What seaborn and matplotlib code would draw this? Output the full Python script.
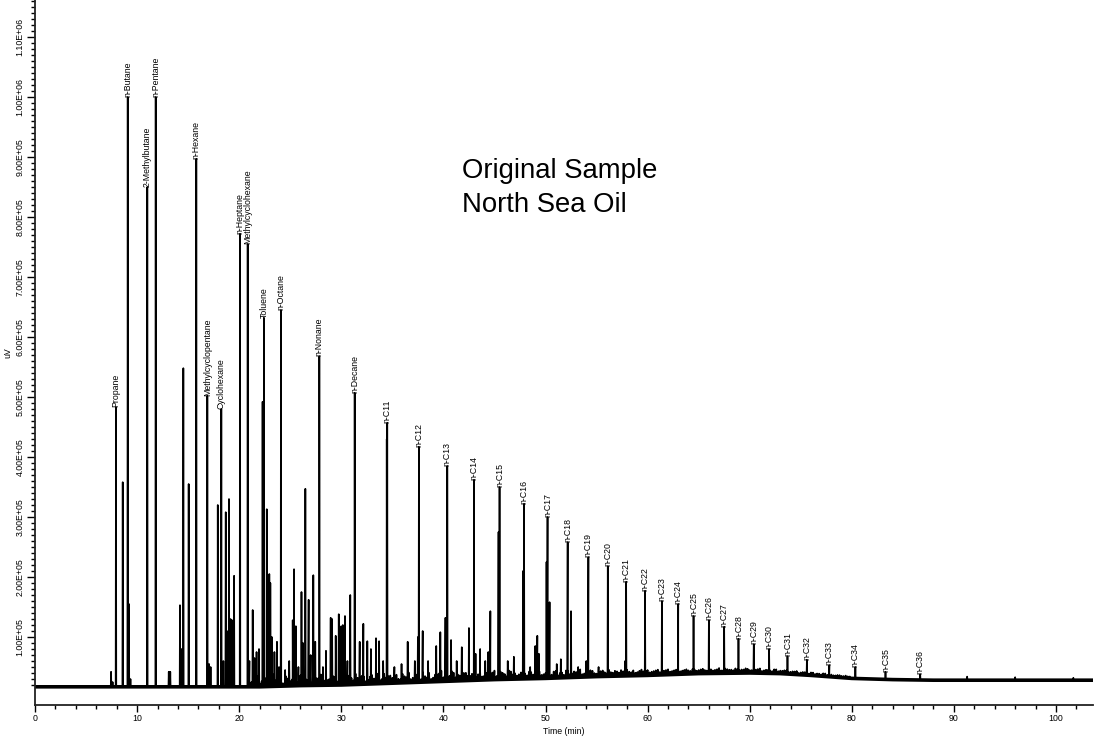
import numpy as np
import pandas as pd
import matplotlib
matplotlib.use("Agg")
import matplotlib.pyplot as plt
import seaborn as sns
from matplotlib.ticker import MultipleLocator, FixedLocator, FuncFormatter

# ---------------- data ----------------
named_labels = ["Propane", "n-Butane", "2-Methylbutane", "n-Pentane", "n-Hexane",
                "Methylcyclopentane", "Cyclohexane", "n-Heptane", "Methylcyclohexane",
                "Toluene", "n-Octane", "n-Nonane", "n-Decane", "n-C11", "n-C12", "n-C13",
                "n-C14", "n-C15", "n-C16", "n-C17", "n-C18", "n-C19", "n-C20", "n-C21",
                "n-C22", "n-C23", "n-C24", "n-C25", "n-C26", "n-C27", "n-C28", "n-C29",
                "n-C30", "n-C31", "n-C32", "n-C33", "n-C34", "n-C35", "n-C36"]
named_times = [7.93, 9.08, 11.0, 11.82, 15.8, 16.88, 18.25, 20.08, 20.83, 22.42, 24.09,
               27.85, 31.31, 34.5, 37.6, 40.38, 43.0, 45.5, 47.9, 50.2, 52.17, 54.2, 56.1,
               57.9, 59.75, 61.4, 63.0, 64.5, 66.0, 67.5, 68.9, 70.4, 71.9, 73.7, 75.6,
               77.8, 80.35, 83.3, 86.7]
named_heights = [4.83e5, 1.00e6, 8.50e5, 1.00e6, 8.97e5, 5.02e5, 4.80e5, 7.72e5, 7.55e5,
                 6.32e5, 6.45e5, 5.68e5, 5.07e5, 4.57e5, 4.17e5, 3.85e5, 3.62e5, 3.50e5,
                 3.22e5, 3.00e5, 2.58e5, 2.33e5, 2.18e5, 1.92e5, 1.77e5, 1.60e5, 1.55e5,
                 1.35e5, 1.28e5, 1.17e5, 0.97e5, 0.88e5, 0.80e5, 0.68e5, 0.62e5, 0.53e5,
                 0.50e5, 0.42e5, 0.38e5]

other_times = [7.45, 7.6, 8.59, 9.2, 9.35, 13.1, 13.25, 14.2, 14.35, 14.53, 15.05, 17.05,
               17.2, 17.9, 18.45, 18.68, 18.8, 19.0, 19.15, 19.3, 19.5, 21.0, 21.32, 21.5,
               21.7, 21.94, 22.29, 22.7, 22.95, 23.05, 23.2, 23.45, 23.7, 23.9, 24.5, 24.9,
               25.24, 25.37, 25.55, 25.8, 26.1, 26.25, 26.48, 26.8, 27.0, 27.26, 27.45,
               28.2, 28.5, 28.96, 29.1, 29.45, 29.75, 30.0, 30.15, 30.36, 30.6, 30.88,
               31.8, 32.16, 32.55, 32.9, 33.4, 33.7, 34.1, 34.45, 35.2, 35.9, 36.5, 37.2,
               37.5, 37.97, 38.5, 39.3, 39.7, 40.2, 40.75, 41.3, 41.8, 42.5, 43.15, 43.6,
               44.1, 44.4, 44.6, 45.4, 46.3, 46.9, 47.8, 48.5, 49.0, 49.2, 49.35, 50.1,
               50.4, 51.1, 51.5, 52.5, 53.2, 54.0, 55.2, 57.8, 91.3, 96.0, 101.7]
other_heights = [0.42e5, 0.25e5, 3.58e5, 1.55e5, 0.30e5, 0.42e5, 0.42e5, 1.53e5, 0.80e5,
                 5.48e5, 3.55e5, 0.55e5, 0.50e5, 3.20e5, 0.60e5, 3.08e5, 1.10e5, 3.30e5,
                 1.30e5, 1.28e5, 2.02e5, 0.60e5, 1.45e5, 0.65e5, 0.75e5, 0.80e5, 4.92e5,
                 3.13e5, 2.05e5, 1.90e5, 1.00e5, 0.75e5, 0.92e5, 0.50e5, 0.45e5, 0.60e5,
                 1.28e5, 2.13e5, 1.18e5, 0.50e5, 1.75e5, 0.90e5, 3.47e5, 1.62e5, 0.70e5,
                 2.03e5, 0.92e5, 0.50e5, 0.77e5, 1.32e5, 1.30e5, 1.02e5, 1.38e5, 1.18e5,
                 1.20e5, 1.35e5, 0.60e5, 1.70e5, 0.92e5, 1.22e5, 0.93e5, 0.80e5, 0.98e5,
                 0.93e5, 0.60e5, 4.30e5, 0.50e5, 0.55e5, 0.92e5, 0.60e5, 1.00e5, 1.10e5,
                 0.60e5, 0.85e5, 1.08e5, 1.32e5, 0.95e5, 0.60e5, 0.83e5, 1.15e5, 0.72e5,
                 0.80e5, 0.60e5, 0.75e5, 1.43e5, 2.75e5, 0.60e5, 0.67e5, 2.10e5, 0.50e5,
                 0.85e5, 1.02e5, 0.72e5, 2.25e5, 1.58e5, 0.55e5, 0.63e5, 1.43e5, 0.50e5,
                 0.60e5, 0.50e5, 0.60e5, 0.34e5, 0.33e5, 0.32e5]

# small "grass" peaks above the baseline (uV above baseline), two interleaved sample rows
grass_start, grass_step = 21.0, 0.4
grass_h = [1.2e4, 0.6e4, 1.8e4, 0.9e4, 1.4e4, 0.7e4, 2.0e4, 1.1e4, 0.5e4, 1.6e4, 0.8e4,
           1.3e4, 1.9e4, 0.6e4, 1.0e4, 1.5e4, 0.7e4, 1.2e4, 2.1e4, 0.9e4, 0.5e4, 1.4e4,
           1.0e4, 1.7e4, 0.6e4, 1.1e4, 1.8e4, 0.8e4, 1.3e4, 0.7e4, 1.5e4, 1.0e4, 0.6e4,
           1.6e4, 1.2e4,
           0.9e4, 1.4e4, 0.6e4, 1.1e4, 1.7e4, 0.8e4, 1.3e4, 0.5e4, 1.0e4, 1.5e4, 0.7e4,
           1.2e4, 1.8e4, 0.6e4, 0.9e4, 1.4e4, 1.1e4, 0.5e4, 1.3e4, 0.8e4, 1.6e4, 1.0e4,
           0.6e4, 1.2e4, 0.9e4, 1.5e4, 0.7e4, 1.1e4, 0.5e4, 1.3e4, 1.0e4, 0.8e4, 1.4e4,
           0.6e4, 1.1e4, 0.9e4, 1.2e4, 0.7e4,
           1.0e4, 0.6e4, 1.2e4, 0.8e4, 0.5e4, 1.1e4, 0.7e4, 0.9e4, 1.3e4, 0.6e4, 0.8e4,
           1.0e4, 0.5e4, 0.9e4, 0.7e4, 1.1e4, 0.6e4, 0.8e4, 1.0e4, 0.5e4, 0.7e4, 0.9e4,
           0.6e4, 1.0e4, 0.8e4, 0.5e4, 0.7e4, 0.9e4, 0.6e4, 0.8e4, 0.5e4, 0.7e4, 0.9e4,
           0.6e4, 0.8e4, 0.5e4, 0.7e4, 0.6e4,
           0.8e4, 0.5e4, 0.7e4, 0.6e4, 0.9e4, 0.5e4, 0.7e4, 0.6e4, 0.8e4, 0.5e4, 0.6e4,
           0.7e4, 0.5e4, 0.6e4, 0.8e4, 0.5e4, 0.6e4, 0.4e4, 0.7e4, 0.5e4, 0.6e4, 0.4e4,
           0.5e4, 0.6e4, 0.4e4, 0.5e4, 0.3e4, 0.5e4, 0.4e4, 0.3e4, 0.5e4, 0.4e4, 0.3e4,
           0.4e4, 0.3e4, 0.4e4, 0.3e4]
grass2_start = 21.2
grass2_h = [0.8e4, 1.5e4, 0.6e4, 1.2e4, 1.9e4, 0.7e4, 1.0e4, 1.6e4, 0.5e4, 1.3e4, 1.1e4,
            0.7e4, 1.7e4, 0.9e4, 1.4e4, 0.6e4, 1.2e4, 1.8e4, 0.8e4, 1.0e4, 1.5e4, 0.6e4,
            1.3e4, 0.9e4, 1.6e4, 0.7e4, 1.1e4, 1.4e4, 0.5e4, 1.2e4, 0.9e4, 1.7e4, 0.8e4,
            1.0e4, 1.3e4,
            1.1e4, 0.7e4, 1.5e4, 0.9e4, 0.6e4, 1.3e4, 1.0e4, 1.6e4, 0.8e4, 0.5e4, 1.2e4,
            1.4e4, 0.7e4, 1.0e4, 1.7e4, 0.6e4, 0.9e4, 1.3e4, 0.8e4, 1.1e4, 0.5e4, 1.4e4,
            0.7e4, 1.0e4, 1.2e4, 0.6e4, 1.3e4, 0.9e4, 1.5e4, 0.8e4, 0.6e4, 1.1e4, 0.9e4,
            1.2e4, 0.7e4, 1.0e4, 0.6e4, 0.9e4,
            0.7e4, 1.1e4, 0.5e4, 0.9e4, 1.2e4, 0.6e4, 1.0e4, 0.7e4, 0.5e4, 0.9e4, 1.1e4,
            0.6e4, 0.8e4, 1.0e4, 0.5e4, 0.7e4, 0.9e4, 0.6e4, 0.8e4, 1.0e4, 0.6e4, 0.5e4,
            0.8e4, 0.7e4, 0.9e4, 0.6e4, 0.8e4, 0.5e4, 0.7e4, 0.9e4, 0.6e4, 0.8e4, 0.5e4,
            0.7e4, 0.6e4, 0.8e4, 0.5e4, 0.7e4,
            0.6e4, 0.8e4, 0.5e4, 0.7e4, 0.5e4, 0.8e4, 0.6e4, 0.5e4, 0.7e4, 0.6e4, 0.8e4,
            0.5e4, 0.6e4, 0.7e4, 0.4e4, 0.6e4, 0.5e4, 0.7e4, 0.4e4, 0.5e4, 0.6e4, 0.4e4,
            0.5e4, 0.3e4, 0.5e4, 0.4e4, 0.5e4, 0.3e4, 0.4e4, 0.5e4, 0.3e4, 0.4e4, 0.3e4,
            0.4e4, 0.3e4, 0.3e4]

# baseline (unresolved hump)
base_t = [0, 7, 15, 22, 26, 30, 35, 40, 45, 50, 55, 60, 65, 70, 73, 76, 80, 84, 88, 95, 104]
base_v = [1.7e4, 1.7e4, 1.7e4, 1.7e4, 1.9e4, 2.0e4, 2.3e4, 2.6e4, 2.9e4, 3.1e4, 3.4e4,
          3.6e4, 3.9e4, 4.0e4, 3.9e4, 3.6e4, 3.1e4, 2.9e4, 2.8e4, 2.8e4, 2.8e4]

# ---------------- figure ----------------
sns.set_style("ticks")
plt.rcParams["font.family"] = ["Liberation Sans", "DejaVu Sans"]
plt.rcParams["text.color"] = "black"
plt.rcParams["axes.labelcolor"] = "black"

W, H = 1094, 738
fig = plt.figure(figsize=(W / 100, H / 100), dpi=100)
ax = fig.add_axes([35 / W, 1 - 705 / H, (W - 1 - 35) / W, 705 / H])

px_per_min = 10.21
px_per_uv = 60 / 1e5
x_max = (W - 1 - 35) / px_per_min
y_min = -(705 - 697) / px_per_uv
y_max = 697 / px_per_uv

def base_at(t):
    return np.interp(t, base_t, base_v)

grass_t = grass_start + grass_step * np.arange(len(grass_h))
grass2_t = grass2_start + grass_step * np.arange(len(grass2_h))
spk_t = np.concatenate([named_times, other_times, grass_t, grass2_t])
spk_top = np.concatenate([named_heights, other_heights,
                          base_at(grass_t) + np.array(grass_h),
                          base_at(grass2_t) + np.array(grass2_h)])

w = 0.03
rows = []
for t, top in zip(spk_t, spk_top):
    b = float(base_at(t))
    rows += [(t - w, b), (t, top), (t + w, b)]
rows += list(zip(base_t, base_v))
trace = pd.DataFrame(rows, columns=["t", "v"]).sort_values("t", kind="stable")

sns.lineplot(data=trace, x="t", y="v", sort=False, estimator=None, color="black",
             lw=1.2, ax=ax, legend=False)
sns.lineplot(x=base_t, y=base_v, color="black", lw=2.6, ax=ax, legend=False,
             sort=False, estimator=None)

for name, t, h in zip(named_labels, named_times, named_heights):
    ax.text(t, h, name, rotation=90, ha="center", va="bottom", fontsize=6.3,
            color="black")

ax.text(41.8, 8.65e5, "Original Sample", fontsize=19.8, va="baseline", ha="left",
        color="black")
ax.text(41.8, 8.08e5, "North Sea Oil", fontsize=19.8, va="baseline", ha="left",
        color="black")

ax.set_xlim(0, x_max)
ax.set_ylim(y_min, y_max)

ax.xaxis.set_major_locator(FixedLocator(list(range(0, 101, 10))))
ax.xaxis.set_minor_locator(MultipleLocator(2))
ax.yaxis.set_major_locator(FixedLocator(list(np.arange(1e5, 1.11e6, 1e5))))
ax.yaxis.set_minor_locator(FixedLocator(list(np.arange(2e4, 1.161e6, 1e4))))
ax.yaxis.set_major_formatter(FuncFormatter(lambda v, p: f"{v:.2E}"))

ax.tick_params(axis="both", which="both", direction="out", colors="black",
               labelsize=6.3, width=1.0, pad=1.5)
ax.tick_params(axis="x", which="major", length=5)
ax.tick_params(axis="x", which="minor", length=3)
ax.tick_params(axis="y", which="major", length=6)
ax.tick_params(axis="y", which="minor", length=3)
for lab in ax.get_yticklabels():
    lab.set_rotation(90)
    lab.set_va("center")

ax.set_xlabel("Time (min)", fontsize=6.3, labelpad=3)
ax.set_ylabel("uV", fontsize=6.3, labelpad=2)

for s in ["top", "right"]:
    ax.spines[s].set_visible(False)
for s in ["left", "bottom"]:
    ax.spines[s].set_color("#222222")
    ax.spines[s].set_linewidth(1.3)
ax.set_facecolor("white")
fig.patch.set_facecolor("white")

fig.savefig("out.png", dpi=100)
